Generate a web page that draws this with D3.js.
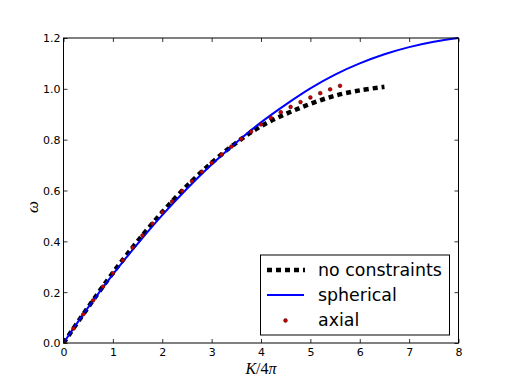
<!DOCTYPE html>
<html><head><meta charset="utf-8">
<script src="https://cdn.jsdelivr.net/npm/d3@7"></script>
<style>body{margin:0;background:#fff}svg{display:block}</style>
</head><body><svg id="c" width="509" height="382"></svg>
<script>
const xTicks = [0,1,2,3,4,5,6,7,8];
const yTicks = [0.0,0.2,0.4,0.6,0.8,1.0,1.2];
const yTickLabels = ["0.0","0.2","0.4","0.6","0.8","1.0","1.2"];

const sphericalK = [0,0.5,1,1.5,2,2.5,3,3.5,4,4.5,5,5.5,6,6.5,7,7.5,8];
const sphericalW = [0,0.14,0.27,0.39,0.503,0.607,0.702,0.789,0.868,0.938,1.002,1.056,1.100,1.136,1.164,1.185,1.2];

const noConsK = [0,0.5,1,1.5,2,2.5,3,3.5,4,4.5,5,5.5,6,6.5];
const noConsW = [0,0.141,0.276,0.40,0.515,0.618,0.709,0.788,0.853,0.901,0.941,0.973,0.994,1.008];

const axialK = [0,0.2,0.4,0.6,0.8,1.0,1.2,1.4,1.6,1.8,2.0,2.2,2.4,2.6,2.8,3.0,3.2,3.4,3.6,3.8,4.0,4.2,4.4,4.6,4.8,5.0,5.2,5.4,5.6];
const axialW = [0,0.057,0.113,0.168,0.222,0.275,0.326,0.375,0.423,0.47,0.515,0.557,0.598,0.637,0.674,0.709,0.742,0.773,0.803,0.832,0.86,0.886,0.908,0.929,0.948,0.966,0.983,0.998,1.012];

const legendLabels = ["no constraints","spherical","axial"];

const L=63.5, R=458.5, T=38, B=343;
const svg = d3.select("#c");
const x = d3.scaleLinear().domain([0,8]).range([L,R]);
const y = d3.scaleLinear().domain([0,1.2]).range([B,T]);

svg.append("clipPath").attr("id","clip").append("rect")
  .attr("x",L).attr("y",T-1).attr("width",R-L+1).attr("height",B-T+1);

const line = d3.line().x(d=>x(d[0])).y(d=>y(d[1])).curve(d3.curveCatmullRom);
const g = svg.append("g").attr("clip-path","url(#clip)");

g.append("path").datum(noConsK.map((k,i)=>[k,noConsW[i]]))
  .attr("d",line).attr("fill","none").attr("stroke","#000")
  .attr("stroke-width",4.5).attr("stroke-dasharray","5,4");

g.append("path").datum(sphericalK.map((k,i)=>[k,sphericalW[i]]))
  .attr("d",line).attr("fill","none").attr("stroke","#0000ff")
  .attr("stroke-width",2);

g.selectAll("circle.ax").data(axialK.map((k,i)=>[k,axialW[i]])).enter()
  .append("circle").attr("class","ax")
  .attr("cx",d=>x(d[0])).attr("cy",d=>y(d[1])).attr("r",1.9)
  .attr("fill","#cc0000").attr("stroke","#300").attr("stroke-width",0.5);

// axes (inward ticks on all sides)
const fmt = d=>String(d);
const axB = svg.append("g").attr("transform",`translate(0,${B})`)
  .call(d3.axisBottom(x).tickValues(xTicks).tickFormat(fmt).tickSizeInner(-4).tickSizeOuter(0).tickPadding(4));
const axT = svg.append("g").attr("transform",`translate(0,${T})`)
  .call(d3.axisTop(x).tickValues(xTicks).tickFormat("").tickSizeInner(-4).tickSizeOuter(0));
const axL = svg.append("g").attr("transform",`translate(${L},0)`)
  .call(d3.axisLeft(y).tickValues(yTicks).tickFormat((d,i)=>yTickLabels[i]).tickSizeInner(-4).tickSizeOuter(0).tickPadding(3));
const axR = svg.append("g").attr("transform",`translate(${R},0)`)
  .call(d3.axisRight(y).tickValues(yTicks).tickFormat("").tickSizeInner(-4).tickSizeOuter(0));
[axB,axT,axL,axR].forEach(a=>{
  a.select(".domain").remove();
  a.selectAll("line").attr("stroke","#000").attr("stroke-width",0.8);
  a.selectAll("text").attr("font-family","DejaVu Sans").attr("font-size","11px").attr("fill","#000");
});
axB.selectAll("text").attr("dy","0.85em");
axL.selectAll("text").attr("dy","0.35em");

svg.append("rect").attr("x",L).attr("y",T).attr("width",R-L).attr("height",B-T)
  .attr("fill","none").attr("stroke","#000").attr("stroke-width",1);

// axis labels
const xl = svg.append("text").attr("x",261).attr("y",374).attr("text-anchor","middle")
  .attr("font-family","Liberation Serif").attr("font-size","16px").attr("fill","#000");
xl.append("tspan").attr("font-style","italic").text("K");
xl.append("tspan").text("/4");
xl.append("tspan").attr("font-style","italic").text("π");

svg.append("text").attr("transform","translate(38,207) rotate(-90)")
  .attr("text-anchor","middle").attr("font-family","Liberation Serif")
  .attr("font-style","italic").attr("font-size","17px").attr("fill","#000").text("ω");

// legend
const lg = svg.append("g");
lg.append("rect").attr("x",260.5).attr("y",255).attr("width",189).attr("height",80)
  .attr("fill","#fff").attr("stroke","#000").attr("stroke-width",1);
const rowsY = [270,295,320];
lg.append("line").attr("x1",267).attr("x2",305).attr("y1",rowsY[0]).attr("y2",rowsY[0])
  .attr("stroke","#000").attr("stroke-width",4.5).attr("stroke-dasharray","5,4");
lg.append("line").attr("x1",267).attr("x2",304).attr("y1",rowsY[1]).attr("y2",rowsY[1])
  .attr("stroke","#0000ff").attr("stroke-width",2);
lg.append("circle").attr("cx",285.5).attr("cy",rowsY[2]+0.5).attr("r",1.9)
  .attr("fill","#cc0000").attr("stroke","#300").attr("stroke-width",0.5);
lg.selectAll("text.lt").data(legendLabels).enter().append("text").attr("class","lt")
  .attr("x",318).attr("y",(d,i)=>rowsY[i]).attr("dy","0.35em")
  .attr("font-family","DejaVu Sans").attr("font-size","17.4px").attr("fill","#000").text(d=>d);
</script></body></html>
